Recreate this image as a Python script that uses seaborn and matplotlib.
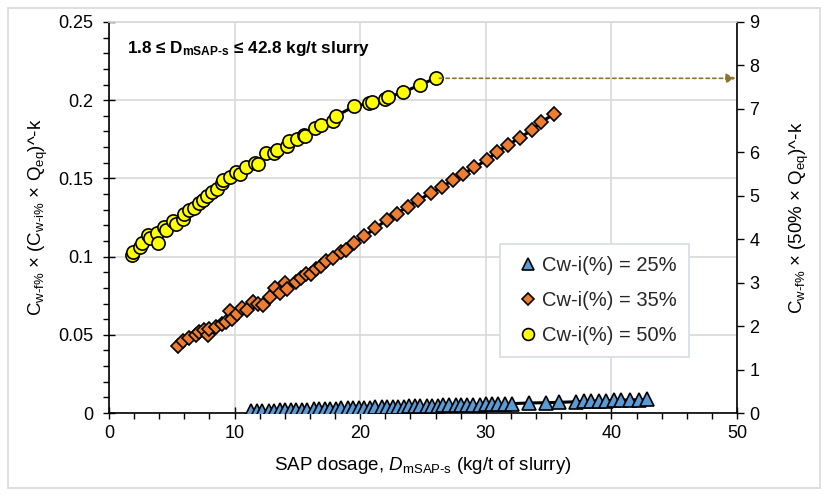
import matplotlib
matplotlib.use("Agg")
import matplotlib.pyplot as plt
from matplotlib.patches import Rectangle
from matplotlib.ticker import MultipleLocator, FixedLocator
import seaborn as sns
import pandas as pd

# Cw-i(%) = 25 %
tri_x = [11.3, 11.8, 12.2, 12.7, 13.1, 13.6, 14.0, 14.5, 14.9, 15.4, 15.8, 16.3, 16.7,
         17.2, 17.6, 18.1, 18.5, 19.0, 19.4, 19.9, 20.3, 20.8, 21.2, 21.7, 22.1, 22.6,
         23.0, 23.5, 23.9, 24.4, 24.8, 25.3, 25.7, 26.2, 26.6, 27.1, 27.6, 28.0, 28.5,
         29.0, 29.5, 30.0, 30.5, 31.0, 31.5, 32.1, 33.4, 34.8, 35.8, 37.2, 37.8, 38.4,
         39.0, 39.6, 40.2, 40.8, 41.5, 42.2, 42.8]
tri_y = [0.0010, 0.0012, 0.0013, 0.0014, 0.0015, 0.0016, 0.0017, 0.0019, 0.0020, 0.0020,
         0.0022, 0.0023, 0.0024, 0.0025, 0.0027, 0.0027, 0.0029, 0.0030, 0.0032, 0.0032,
         0.0034, 0.0034, 0.0036, 0.0036, 0.0038, 0.0038, 0.0040, 0.0040, 0.0042, 0.0043,
         0.0044, 0.0044, 0.0046, 0.0047, 0.0048, 0.0049, 0.0050, 0.0051, 0.0052, 0.0053,
         0.0054, 0.0055, 0.0056, 0.0057, 0.0058, 0.0060, 0.0064, 0.0066, 0.0068, 0.0072,
         0.0074, 0.0076, 0.0077, 0.0079, 0.0080, 0.0082, 0.0084, 0.0085, 0.0087]

# Cw-i(%) = 35 %
dia_x = [5.5, 5.9, 6.4, 6.9, 7.2, 7.6, 7.9, 8.0, 8.5, 9.0, 9.3, 9.6, 9.8, 10.2, 10.6,
         11.0, 11.5, 11.9, 12.3, 12.8, 13.2, 13.6, 14.0, 14.2, 14.9, 15.3, 15.7, 16.1,
         16.5, 16.9, 17.3, 17.8, 18.5, 18.9, 19.5, 20.3, 21.2, 22.1, 22.9, 23.8, 24.6,
         25.6, 26.5, 27.4, 28.2, 29.1, 30.1, 30.9, 31.8, 32.7, 33.7, 34.4, 35.4]
dia_y = [0.043, 0.046, 0.048, 0.050, 0.052, 0.053, 0.050, 0.054, 0.055, 0.057, 0.058,
         0.065, 0.060, 0.063, 0.067, 0.066, 0.071, 0.070, 0.069, 0.074, 0.080, 0.077,
         0.083, 0.079, 0.084, 0.086, 0.089, 0.089, 0.092, 0.094, 0.097, 0.099, 0.103,
         0.104, 0.1085, 0.113, 0.118, 0.1235, 0.1275, 0.132, 0.136, 0.1405, 0.1445,
         0.149, 0.153, 0.157, 0.162, 0.167, 0.1715, 0.176, 0.181, 0.186, 0.191]

# Cw-i(%) = 50 %
cir_x = [1.8, 1.9, 2.5, 2.6, 3.1, 3.3, 3.8, 3.9, 4.4, 4.5, 5.1, 5.3, 5.9, 6.0, 6.4, 6.8,
         7.2, 7.5, 7.8, 8.2, 8.6, 9.0, 9.1, 9.6, 10.1, 10.4, 10.9, 11.6, 11.9, 12.5, 13.1,
         13.4, 14.2, 14.3, 15.0, 15.5, 15.6, 16.4, 16.9, 17.8, 18.1, 19.5, 20.7, 20.9,
         22.0, 22.2, 23.4, 24.8, 26.0]
cir_y = [0.101, 0.103, 0.106, 0.109, 0.114, 0.112, 0.115, 0.109, 0.119, 0.117, 0.123,
         0.121, 0.124, 0.127, 0.130, 0.131, 0.134, 0.136, 0.139, 0.141, 0.143, 0.147,
         0.149, 0.151, 0.154, 0.153, 0.157, 0.160, 0.159, 0.166, 0.166, 0.168, 0.171,
         0.174, 0.175, 0.178, 0.177, 0.182, 0.184, 0.187, 0.190, 0.196, 0.198, 0.199,
         0.201, 0.202, 0.205, 0.210, 0.214]

labels = ["Cw-i(%) = 25%", "Cw-i(%) = 35%", "Cw-i(%) = 50%"]
x_ticks = [0, 10, 20, 30, 40, 50]
y_ticks = [0, 0.05, 0.1, 0.15, 0.2, 0.25]
y_tick_labels = ["0", "0.05", "0.1", "0.15", "0.2", "0.25"]
right_ticks = [0, 1, 2, 3, 4, 5, 6, 7, 8, 9]

sns.set_theme(style="white")
plt.rcParams["font.family"] = ["Liberation Sans", "DejaVu Sans"]
plt.rcParams["mathtext.fontset"] = "custom"
plt.rcParams["mathtext.rm"] = "Liberation Sans"
plt.rcParams["mathtext.it"] = "Liberation Sans:italic"
plt.rcParams["mathtext.bf"] = "Liberation Sans:bold"

HY = "\u2010"  # typographic hyphen, kept as a hyphen inside subscripts

fig = plt.figure(figsize=(8.28, 4.96), dpi=100)
ax = fig.add_axes([109 / 828, 1 - 413 / 496, (737 - 109) / 828, (413 - 22) / 496])

series = [
    (tri_x, tri_y, "^", "#5B9BD5", 9.5),
    (dia_x, dia_y, "D", "#ED7D31", 7),
    (cir_x, cir_y, "o", "#FFFF00", 9.5),
]

for (xs, ys, mk, col, ms), lab in zip(series, labels):
    df = pd.DataFrame({"x": xs, "y": ys})
    sns.lineplot(data=df, x="x", y="y", ax=ax, color="black", lw=2.2, sort=True,
                 estimator=None, zorder=2, legend=False)
    ax.plot(xs, ys, ls="none", marker=mk, ms=ms, mfc=col, mec="black", mew=1.2,
            zorder=3, label=lab)

ax.set_xlim(0, 50)
ax.set_ylim(0, 0.25)
ax.xaxis.set_major_locator(FixedLocator(x_ticks))
ax.xaxis.set_minor_locator(MultipleLocator(2))
ax.yaxis.set_major_locator(FixedLocator(y_ticks))
ax.set_yticklabels(y_tick_labels)
ax.yaxis.set_minor_locator(MultipleLocator(0.01))
ax.grid(True, which="major", color="#d9d9d9", lw=1.2, zorder=0)
ax.set_axisbelow(True)

ax.tick_params(axis="both", which="major", direction="inout", length=8, width=1,
               color="black", labelsize=13, labelcolor="black")
ax.tick_params(axis="y", which="major", pad=7)
ax.tick_params(axis="x", which="major", pad=5)
ax.tick_params(axis="both", which="minor", direction="out", length=4, width=1,
               color="black")
ax.tick_params(axis="x", which="both", bottom=True)
ax.tick_params(axis="y", which="both", left=True)

for side in ["left", "bottom", "right"]:
    ax.spines[side].set_color("black")
    ax.spines[side].set_linewidth(1.2)
ax.spines["top"].set_color("#d9d9d9")

ax.set_xlabel(r"SAP dosage, $\mathit{D}$$_{\mathregular{mSAP" + HY + r"s}}$ (kg/t of slurry)",
              fontsize=13.5, color="black", labelpad=9)
ax.set_ylabel(r"C$_{\mathregular{w" + HY + r"f\%}}$ × (C$_{\mathregular{w" + HY +
              r"i\%}}$ × Q$_{\mathregular{eq}}$)^-k",
              fontsize=13.5, color="black", labelpad=6)

ax2 = ax.twinx()
ax2.set_ylim(0, 9)
ax2.yaxis.set_major_locator(FixedLocator(right_ticks))
ax2.tick_params(axis="y", which="major", direction="out", length=5, width=1,
                color="black", labelsize=13, labelcolor="black", right=True, pad=4)
for s in ax2.spines.values():
    s.set_visible(False)
ax2.set_ylabel(r"C$_{\mathregular{w" + HY + r"f\%}}$ × (50% × Q$_{\mathregular{eq}}$)^-k",
               fontsize=13.5, color="black", labelpad=20)

# Arrow from the last 50 % point to the secondary axis
ax.annotate("", xy=(50, cir_y[-1]), xytext=(cir_x[-1] + 0.3, cir_y[-1]),
            arrowprops=dict(arrowstyle="-|>", color="#8B7332", lw=1.2, ls=(0, (2, 2)),
                            mutation_scale=14, shrinkA=0, shrinkB=1), zorder=4)

ax.text(0.028, 0.933, r"1.8 ≤ D$_{\mathregular{mSAP" + HY + r"s}}$ ≤ 42.8 kg/t slurry",
        transform=ax.transAxes, fontsize=12.3, fontweight="bold", color="black",
        ha="left", va="center")

leg = ax.legend(loc="upper left", bbox_to_anchor=(0.622, 0.432), fontsize=14.5,
                frameon=True, fancybox=False, edgecolor="#d6dde6", framealpha=1,
                handlelength=1.6, handletextpad=-0.1, labelspacing=0.8,
                borderpad=0.6, borderaxespad=0, markerscale=0.9)
leg.get_frame().set_linewidth(1.2)

fig.patches.append(Rectangle((8 / 828, 8 / 496), 812 / 828, 480 / 496,
                             transform=fig.transFigure, fill=False,
                             edgecolor="#d9d9d9", lw=1.2))

fig.savefig("out.png", dpi=100)
